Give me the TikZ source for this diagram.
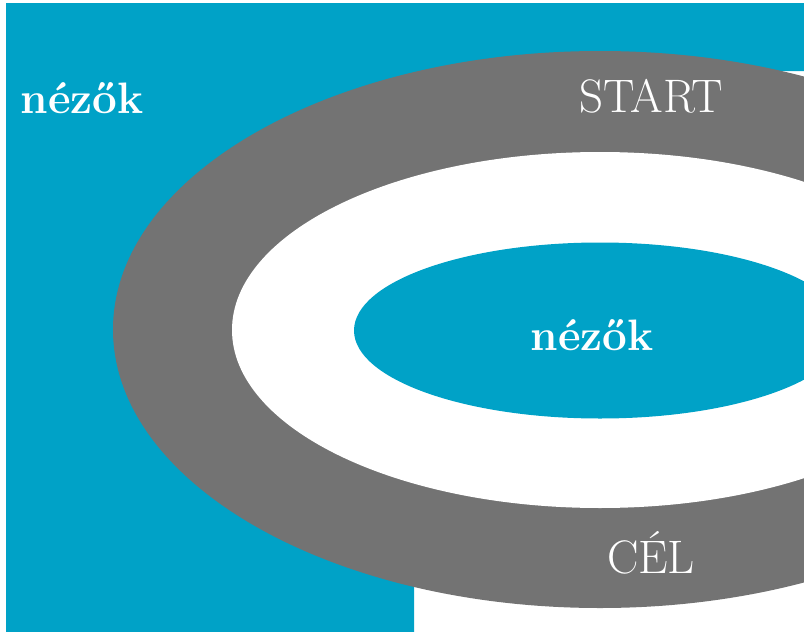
\documentclass[tikz,border=0pt]{standalone}
\definecolor{stageblue}{RGB}{0,162,199}
\definecolor{trackgray}{RGB}{115,115,115}
\begin{document}
\begin{tikzpicture}[
    x=1pt, y=-1pt,
    crowd/.style={text=white, anchor=base, inner sep=0pt, font=\fontsize{44}{50}\selectfont\bfseries},
    tracklabel/.style={text=white, anchor=base, inner sep=0pt, font=\fontsize{47}{52}\selectfont}
]
\useasboundingbox (0,0) rectangle (804,632);
\clip (0,0) rectangle (804,632);

% Spectator area
\fill[stageblue] (6,3) -- (804,3) -- (804,71) -- (500,71) -- (500,200)
    -- (414,200) -- (414,632) -- (6,632) -- cycle;

% Track
\fill[trackgray] (600,329.5) ellipse [x radius=487, y radius=278.5];
\fill[white] (600,330) ellipse [x radius=368, y radius=178];

% Infield
\fill[stageblue] (600,330.5) ellipse [x radius=246, y radius=88];

% Labels
\node[crowd] (outer) at (82,113) {nézők};
\node[crowd] (inner) at (592,350) {nézők};
\node[tracklabel] (start) at (651,112) {START};
\node[tracklabel] (goal) at (651,573) {CÉL};

\end{tikzpicture}
\end{document}
